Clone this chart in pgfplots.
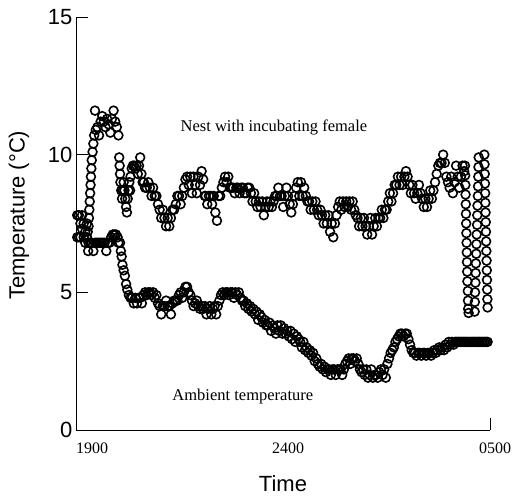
\documentclass[border=0pt]{standalone}
\usepackage{fontspec}
\setmainfont{Liberation Serif}
\newfontfamily\arial{Liberation Sans}
\usepackage{pgfplots}
\pgfplotsset{compat=1.18}
\pgfplotsset{tempmark/.style={only marks, mark=o, black, mark size=4.4pt, mark options={line width=1.6pt, black, fill=none}}}
\begin{document}
\begin{tikzpicture}
\begin{axis}[
  scale only axis, width=414pt, height=413pt,
  xmin=18.75, xmax=29, ymin=0, ymax=15,
  axis lines=left, axis line style={-, line width=0.9pt},
  clip=false,
  ytick={0,5,10,15}, tick align=inside, major tick length=12pt,
  ytick style={line width=0.9pt, black},
  /pgf/number format/assume math mode=true,
  yticklabel style={font=\arial\fontsize{22}{22}\selectfont},
  xtick={19,24,29}, xticklabels={\hspace{12pt}1900,2400,\hspace{10pt}0500},
  xtick style={draw=none},
  xticklabel style={font=\fontsize{16}{16}\selectfont, yshift=-9pt},
  xlabel={Time}, ylabel={Temperature (°C)},
  label style={font=\arial\fontsize{22}{22}\selectfont},
  xlabel style={yshift=-15pt},
  ylabel style={at={(ticklabel cs:0.52)}},
  ylabel shift=12pt,
]
\addplot[tempmark] coordinates {
(18.78,7.8)(18.82,7.8)(18.86,7.5)(18.90,7.8)(18.94,7.5)(18.98,7.2)(19.02,7.5)(19.04,7.2)
(19.06,7.4)(19.07,7.7)(19.08,8.0)(19.09,8.3)(19.10,8.6)(19.11,8.9)(19.12,9.2)(19.13,9.5)(19.14,9.8)(19.16,10.1)(19.18,10.4)
(19.20,10.7)(19.22,11.6)(19.24,10.9)(19.28,11.0)(19.32,10.7)(19.36,11.2)(19.40,11.4)(19.44,11.2)(19.48,11.0)(19.52,11.3)
(19.56,11.1)(19.60,10.8)(19.64,11.3)(19.68,11.6)(19.72,11.2)(19.76,11.0)(19.80,10.7)
(19.82,9.9)(19.83,9.6)(19.84,9.3)(19.85,9.0)(19.87,8.7)(19.89,8.4)(19.91,8.7)(19.93,9.0)(19.95,8.7)(19.97,8.4)(19.99,8.1)
(20.01,7.9)(20.03,8.4)(20.05,8.7)(20.07,9.0)(20.09,8.7)(20.10,9.2)(20.13,9.5)(20.16,9.6)(20.19,9.6)(20.22,9.5)(20.25,9.6)
(20.28,9.3)(20.31,9.6)(20.34,9.9)(20.37,9.3)(20.40,9.0)(20.43,9.0)(20.46,8.8)(20.50,8.8)(20.54,9.0)(20.58,8.8)(20.62,8.5)
(20.66,8.8)(20.70,8.5)(20.74,8.5)(20.78,8.2)(20.82,8.0)(20.86,7.7)(20.90,8.0)(20.94,7.7)(20.98,7.4)(21.02,7.7)(21.06,7.4)
(21.10,7.7)(21.14,8.0)(21.18,8.0)(21.22,8.2)(21.26,8.5)(21.30,8.5)(21.34,8.2)(21.38,8.5)(21.42,8.8)(21.46,9.1)(21.50,9.2)
(21.54,8.9)(21.58,9.2)(21.62,8.6)(21.66,9.2)(21.70,8.9)(21.74,8.6)(21.78,9.2)(21.82,8.9)(21.86,9.4)(21.90,9.1)(21.94,8.5)
(21.96,8.5)(22.00,8.2)(22.04,8.5)(22.08,8.5)(22.12,8.2)(22.16,8.5)(22.20,7.9)(22.24,7.6)(22.28,8.5)(22.32,8.5)(22.36,8.8)
(22.40,9.0)(22.44,9.2)(22.48,9.0)(22.52,9.2)(22.56,8.8)(22.60,8.8)(22.64,8.8)(22.68,8.6)(22.72,8.8)(22.76,8.8)(22.80,8.6)
(22.84,8.8)(22.88,8.8)(22.92,8.6)(22.96,8.6)(23.00,8.8)(23.04,8.8)(23.08,8.6)(23.12,8.3)(23.16,8.6)(23.20,8.3)(23.24,8.1)
(23.28,8.3)(23.32,8.1)(23.36,8.3)(23.40,7.8)(23.44,8.1)(23.48,8.3)(23.52,8.1)(23.56,8.3)(23.60,8.1)(23.64,8.3)
(23.68,8.5)(23.72,8.5)(23.76,8.8)(23.80,8.5)(23.84,8.5)(23.88,8.1)(23.92,8.5)(23.96,8.8)(24.00,8.5)(24.04,8.2)(24.08,7.9)
(24.12,8.2)(24.16,8.5)(24.20,8.8)(24.24,9.0)(24.28,8.5)(24.32,9.0)(24.36,8.5)(24.40,8.8)(24.44,8.5)
(24.48,8.3)(24.52,8.3)(24.56,8.0)(24.60,8.3)(24.64,8.0)(24.68,8.3)(24.72,8.0)(24.76,7.8)(24.80,8.0)(24.84,7.8)
(24.88,7.5)(24.92,7.8)(24.96,7.5)(25.00,7.8)(25.04,7.2)(25.08,7.5)(25.12,7.0)(25.16,7.5)(25.20,7.8)
(25.24,8.1)(25.28,8.3)(25.32,8.0)(25.36,8.3)(25.40,8.1)(25.44,8.3)(25.48,8.1)(25.52,8.3)(25.56,8.0)(25.60,8.3)(25.64,8.0)(25.68,7.8)
(25.72,7.7)(25.76,7.4)(25.80,7.7)(25.84,7.4)(25.88,7.7)(25.92,7.4)(25.96,7.1)(26.00,7.4)(26.04,7.7)(26.08,7.1)(26.12,7.4)(26.16,7.7)
(26.20,7.4)(26.24,7.7)(26.28,7.7)(26.32,8.0)(26.36,7.7)(26.40,8.0)(26.44,8.0)(26.48,8.3)
(26.52,8.6)(26.56,8.3)(26.60,8.6)(26.64,8.9)(26.68,8.9)(26.72,9.2)(26.76,8.9)(26.80,9.2)(26.84,8.9)(26.88,9.2)(26.92,9.4)(26.96,9.2)(27.00,8.9)
(27.04,8.6)(27.08,8.9)(27.12,8.6)(27.16,8.4)(27.20,8.6)(27.24,8.9)(27.28,8.6)(27.32,8.4)(27.36,8.1)(27.40,8.4)(27.44,8.1)(27.48,8.4)(27.52,8.7)(27.56,8.4)(27.60,8.7)
(27.64,9.0)(27.68,9.3)(27.72,9.6)(27.76,9.7)(27.80,9.7)(27.84,10.0)(27.88,9.7)
(27.92,9.2)(27.96,9.0)(28.00,8.8)(28.04,9.2)(28.08,8.6)(28.12,9.0)(28.16,9.6)(28.20,9.2)(28.24,8.8)(28.28,9.2)(28.32,9.6)(28.36,9.4)
(28.38,9.6)(28.385,9.25)(28.39,8.9)(28.395,8.55)(28.40,8.2)(28.405,7.85)(28.41,7.5)(28.415,7.15)(28.42,6.8)(28.425,6.45)(28.43,6.1)(28.435,5.75)(28.44,5.4)(28.45,5.05)(28.455,4.7)(28.46,4.4)(28.47,4.25)
(28.62,4.3)(28.625,4.65)(28.63,5.0)(28.64,5.35)(28.645,5.7)(28.65,6.05)(28.66,6.4)(28.665,6.75)(28.67,7.1)(28.68,7.45)(28.685,7.8)(28.69,8.15)(28.70,8.5)(28.705,8.85)(28.71,9.2)(28.715,9.55)(28.72,9.9)
(28.86,10.0)(28.865,9.65)(28.87,9.3)(28.875,8.95)(28.88,8.6)(28.885,8.25)(28.89,7.9)(28.895,7.55)(28.90,7.2)(28.905,6.85)(28.91,6.5)(28.915,6.15)(28.92,5.8)(28.925,5.45)(28.93,5.1)(28.935,4.75)(28.94,4.45)
};
\addplot[tempmark] coordinates {
(18.78,7.0)(18.82,7.0)(18.86,7.0)(18.90,7.3)(18.94,7.0)(18.98,6.8)(19.02,7.0)(19.05,6.5)(19.06,6.8)(19.10,6.8)(19.14,6.8)(19.18,6.5)
(19.22,6.8)(19.26,6.8)(19.30,6.8)(19.34,6.8)(19.38,6.8)(19.42,6.8)(19.46,6.8)(19.50,6.5)(19.54,6.8)(19.58,6.8)(19.62,7.0)
(19.66,7.1)(19.70,7.1)(19.74,7.1)(19.78,7.0)(19.80,6.8)
(19.84,6.8)(19.86,6.5)(19.88,6.3)(19.90,6.0)(19.93,5.8)(19.96,5.6)(19.99,5.3)(20.02,5.1)(20.06,4.9)
(20.10,4.8)(20.14,4.8)(20.18,4.6)(20.22,4.8)(20.26,4.6)(20.30,4.8)(20.34,4.8)(20.38,4.6)
(20.42,4.9)(20.46,5.0)(20.50,4.9)(20.54,5.0)(20.58,5.0)(20.62,4.9)(20.66,5.0)(20.70,4.8)(20.74,4.9)
(20.78,4.6)(20.82,4.5)(20.86,4.2)(20.90,4.5)(20.94,4.5)(20.98,4.7)(21.02,4.5)(21.06,4.5)(21.10,4.2)(21.14,4.6)(21.18,4.7)(21.22,4.7)
(21.26,4.7)(21.30,4.9)(21.34,5.0)(21.38,4.8)(21.42,5.0)(21.46,5.2)(21.50,5.2)(21.54,5.0)(21.58,4.9)(21.62,4.7)(21.66,4.5)
(21.70,4.6)(21.74,4.7)(21.78,4.5)(21.82,4.4)(21.86,4.5)(21.90,4.4)(21.94,4.5)(21.98,4.2)(22.02,4.4)(22.06,4.5)(22.10,4.2)
(22.14,4.4)(22.18,4.5)(22.22,4.2)(22.26,4.5)(22.30,4.7)(22.34,4.9)(22.38,5.0)(22.42,4.9)(22.46,5.0)(22.50,5.0)(22.54,4.9)
(22.58,5.0)(22.62,5.0)(22.66,4.8)(22.70,5.0)(22.74,4.9)(22.78,5.0)(22.82,4.8)(22.86,4.7)(22.90,4.7)(22.94,4.5)(22.98,4.6)
(23.02,4.4)(23.06,4.5)(23.10,4.3)(23.14,4.4)(23.18,4.2)(23.22,4.3)(23.26,4.0)(23.30,4.2)(23.34,4.1)(23.38,3.9)(23.42,4.0)(23.46,3.8)
(23.50,3.8)(23.54,3.9)(23.58,3.6)(23.62,3.8)(23.66,3.7)(23.70,3.5)(23.74,3.8)(23.78,3.6)(23.82,3.8)(23.86,3.5)(23.90,3.7)
(23.94,3.5)(23.98,3.6)(24.02,3.4)(24.06,3.6)(24.10,3.3)(24.14,3.5)(24.18,3.2)(24.22,3.4)(24.26,3.3)(24.30,3.2)(24.34,3.0)
(24.38,3.2)(24.42,2.9)(24.46,3.0)(24.50,2.8)(24.54,2.9)(24.58,2.7)(24.62,2.8)(24.66,2.5)(24.70,2.6)(24.74,2.4)(24.78,2.3)
(24.82,2.4)(24.86,2.2)(24.90,2.3)(24.94,2.1)(24.98,2.2)(25.02,2.2)(25.06,2.0)(25.10,2.2)(25.14,2.2)(25.18,2.0)(25.22,2.2)
(25.26,2.2)(25.30,2.2)(25.34,2.0)(25.38,2.2)(25.42,2.4)(25.46,2.5)(25.50,2.6)(25.54,2.4)(25.58,2.6)(25.62,2.6)(25.66,2.5)
(25.70,2.6)(25.74,2.4)(25.78,2.2)(25.82,2.1)(25.86,2.2)(25.90,2.0)(25.94,2.2)(25.98,1.9)(26.02,2.0)(26.06,2.2)(26.10,1.9)
(26.14,2.0)(26.18,2.0)(26.22,1.9)(26.26,2.1)(26.30,2.2)(26.34,2.0)(26.38,2.2)(26.42,1.9)(26.46,2.4)(26.50,2.6)(26.54,2.8)
(26.58,2.9)(26.62,3.0)(26.66,3.2)(26.70,3.3)(26.74,3.4)(26.78,3.5)(26.82,3.5)(26.86,3.4)(26.90,3.5)(26.94,3.5)(26.98,3.3)
(27.02,3.1)(27.06,2.9)(27.10,2.8)(27.14,2.8)(27.18,2.7)(27.22,2.8)(27.26,2.8)(27.30,2.7)(27.34,2.8)(27.38,2.8)(27.42,2.7)
(27.46,2.8)(27.50,2.8)(27.54,2.7)(27.58,2.8)(27.62,2.9)(27.66,2.8)(27.70,2.9)(27.74,3.0)(27.78,2.9)(27.82,3.0)(27.86,2.9)
(27.90,3.1)(27.94,3.0)(27.98,3.2)(28.02,3.1)(28.06,3.2)(28.10,3.1)(28.14,3.2)(28.18,3.2)(28.22,3.2)(28.26,3.2)(28.30,3.2)
(28.34,3.2)(28.38,3.2)(28.42,3.2)(28.46,3.2)(28.50,3.2)(28.54,3.2)(28.58,3.2)(28.62,3.2)(28.66,3.2)(28.70,3.2)(28.74,3.2)
(28.78,3.2)(28.82,3.2)(28.86,3.2)(28.90,3.2)(28.94,3.2)
};
\node[font=\fontsize{16.5}{16.5}\selectfont] at (axis cs:23.65,10.97) {Nest with incubating female};
\node[font=\fontsize{16.5}{16.5}\selectfont] at (axis cs:22.88,1.2) {Ambient temperature};
\draw[line width=0.9pt] (axis cs:29,0) -- ([yshift=12pt]axis cs:29,0);
\coordinate (o) at (rel axis cs:0,0);
\coordinate (t) at (rel axis cs:1,1);
\end{axis}
\pgfresetboundingbox
\path[use as bounding box] ([shift={(-76pt,-67pt)}]o) rectangle ([shift={(26pt,17pt)}]t);
\end{tikzpicture}
\end{document}
